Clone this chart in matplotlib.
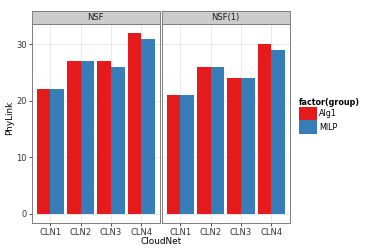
import numpy as np
import matplotlib
matplotlib.use('Agg')
import matplotlib.pyplot as plt
from matplotlib.patches import Patch

categories = ['CLN1', 'CLN2', 'CLN3', 'CLN4']
panels = ['NSF', 'NSF(1)']
groups = ['Alg1', 'MILP']
values = {
    'NSF': {'Alg1': [22, 27, 27, 32], 'MILP': [22, 27, 26, 31]},
    'NSF(1)': {'Alg1': [21, 26, 24, 30], 'MILP': [21, 26, 24, 29]},
}
colors = {'Alg1': '#E41A1C', 'MILP': '#377EB8'}

W, H = 369, 252
fig = plt.figure(figsize=(W / 100, H / 100), dpi=100)

def box(x0, y0, x1, y1):
    # pixel box (top-left origin) -> figure coords
    return [x0 / W, 1 - y1 / H, (x1 - x0) / W, (y1 - y0) / H]

lefts = [32, 162]
for i, name in enumerate(panels):
    x0 = lefts[i]
    ax = fig.add_axes(box(x0, 24, x0 + 127.5, 222.7))
    x = np.arange(1, len(categories) + 1)
    for j, g in enumerate(groups):
        ax.bar(x - 0.225 + j * 0.45, values[name][g], width=0.45,
               color=colors[g], edgecolor='none', zorder=3)
    ax.set_xlim(0.4, 4.6)
    ax.set_ylim(-1.6, 33.6)
    ax.set_xticks(x)
    ax.set_xticklabels(categories)
    ax.set_yticks([0, 10, 20, 30])
    ax.set_yticks([5, 15, 25], minor=True)
    ax.grid(True, which='major', color='#E5E5E5', linewidth=0.6, zorder=0)
    ax.grid(True, which='minor', axis='y', color='#FAFAFA', linewidth=0.5, zorder=0)
    ax.tick_params(axis='both', which='major', labelsize=6.0, colors='#333333',
                   length=2.5, width=0.6, pad=1.5)
    ax.tick_params(which='minor', length=0)
    for s in ax.spines.values():
        s.set_color('#7F7F7F')
        s.set_linewidth(0.7)
    if i == 1:
        ax.tick_params(axis='y', left=False, labelleft=False)
    # strip
    sx = fig.add_axes(box(x0, 11, x0 + 127.5, 24))
    sx.set_facecolor('#CCCCCC')
    sx.set_xticks([])
    sx.set_yticks([])
    for s in sx.spines.values():
        s.set_color('#7F7F7F')
        s.set_linewidth(0.7)
    sx.text(0.5, 0.5, name, ha='center', va='center', fontsize=6.0,
            transform=sx.transAxes, color='#1A1A1A')

fig.text(161 / W, 1 - 241 / H, 'CloudNet', ha='center', va='center', fontsize=6.4)
fig.text(10 / W, 1 - 118 / H, 'PhyLink', ha='center', va='center',
         rotation=90, fontsize=6.4)

handles = [Patch(facecolor=colors[g], edgecolor='none') for g in groups]
leg = fig.legend(handles, groups, loc='upper left',
                 bbox_to_anchor=(299 / W, 1 - 98 / H), frameon=False,
                 title='factor(group)', fontsize=5.8, title_fontsize=5.8,
                 handlelength=2.2, handleheight=2.2, handletextpad=0.3,
                 labelspacing=0.0, borderaxespad=0, borderpad=0)
leg.get_title().set_fontweight('bold')
leg._legend_box.align = 'left'

fig.savefig('out.png', dpi=100)
